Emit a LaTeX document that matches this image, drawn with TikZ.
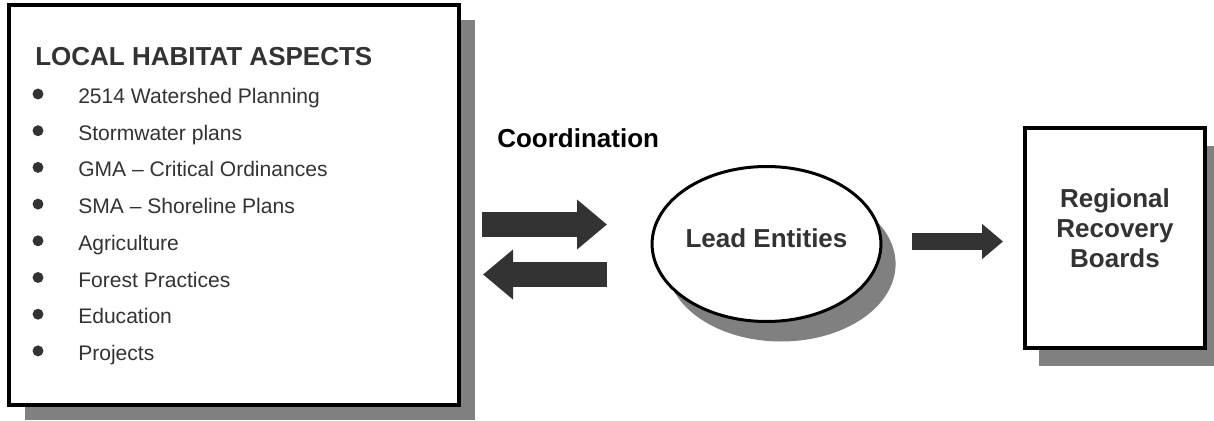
\documentclass[tikz,border=0pt]{standalone}
\usepackage{fontspec}
\setmainfont{Liberation Sans}
\usetikzlibrary{arrows.meta,positioning,shapes.geometric,shadows,calc}
\definecolor{inkgray}{HTML}{333333}
\definecolor{shadowgray}{HTML}{808080}

\begin{document}
\begin{tikzpicture}[x=0.75pt,y=-0.75pt,
  panel/.style={draw=black,line width=3pt,fill=white,inner sep=0pt},
  boldtxt/.style={font=\fontsize{19.5pt}{22.5pt}\selectfont\bfseries,text=inkgray,inner sep=0pt},
  itemtxt/.style={font=\fontsize{15.8pt}{19pt}\selectfont,text=inkgray,inner sep=0pt,anchor=base west},
  blockarrow/.style={draw=inkgray,line width=18.75pt,-{Triangle[length=22.5pt,width=36pt]}},
  smallarrow/.style={draw=inkgray,line width=12.75pt,-{Triangle[length=15.75pt,width=25.5pt]}}]
  \useasboundingbox (0,0) rectangle (1214,421);
  % local habitat box
  \node[panel,minimum width=337.5pt,minimum height=300pt,
    drop shadow={shadow xshift=12pt,shadow yshift=-11.25pt,fill=shadowgray,opacity=1}] (lha) at (234,205) {};
  \node[boldtxt,anchor=base west] (head) at (35,65) {LOCAL HABITAT ASPECTS};
  \foreach \txt [count=\i from 0] in {2514 Watershed Planning,Stormwater plans,GMA -- Critical Ordinances,SMA -- Shoreline Plans,Agriculture,Forest Practices,Education,Projects}{
    \node[itemtxt] (item\i) at (78,103.5+36.7*\i) {\txt};
    \fill[inkgray] (38,94+36.7*\i) circle[radius=4.1pt];
  }
  \node[boldtxt,text=black,anchor=base west] (coord) at (497,147) {Coordination};
  % lead entities
  \node[panel,ellipse,line width=2.25pt,minimum width=163.5pt,minimum height=116.25pt,
    text height=14pt,text depth=9.5pt,font=\fontsize{19.5pt}{22.5pt}\selectfont\bfseries,text=inkgray,
    drop shadow={shadow xshift=11pt,shadow yshift=-15pt,fill=shadowgray,opacity=1}] (lead) at (766.5,244) {Lead Entities};
  % recovery boards
  \node[panel,minimum width=135pt,minimum height=165pt,
    drop shadow={shadow xshift=10.5pt,shadow yshift=-13.5pt,fill=shadowgray,opacity=1}] (rrb) at (1115,238) {};
  \node[boldtxt,align=center] (rrbtxt) at (1115,228.5) {Regional\\Recovery\\Boards};
  % arrows
  \coordinate (fwdtail) at (482,224.5);
  \coordinate (fwdtip) at (607,224.5);
  \coordinate (backtail) at (607,274.5);
  \coordinate (backtip) at (483,274.5);
  \coordinate (outtail) at (912,241.5);
  \coordinate (outtip) at (1003,241.5);
  \draw[blockarrow] (fwdtail) -- (fwdtip);
  \draw[blockarrow] (backtail) -- (backtip);
  \draw[smallarrow] (outtail) -- (outtip);
\end{tikzpicture}
\end{document}
